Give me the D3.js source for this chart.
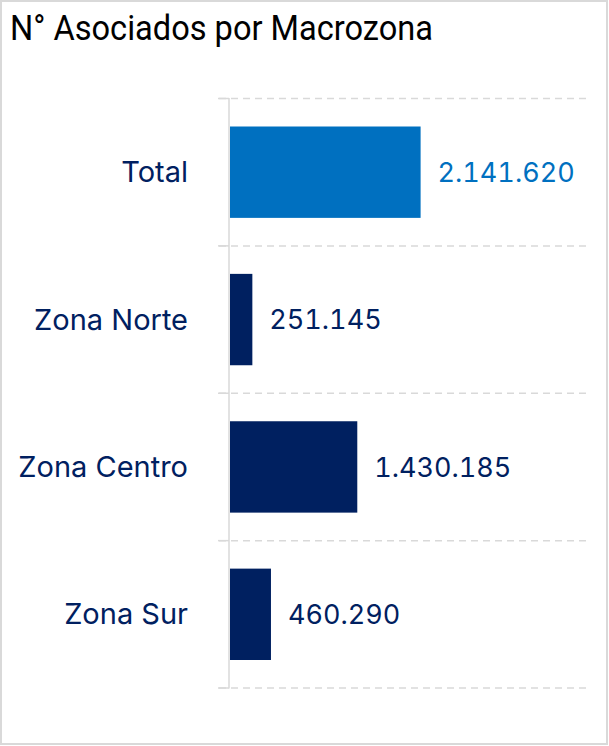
<!DOCTYPE html>
<html><head><meta charset="utf-8">
<script src="https://cdn.jsdelivr.net/npm/d3@7"></script>
<style>body{margin:0;background:#fff}svg{display:block}.val{font-variant-numeric:tabular-nums;font-feature-settings:"tnum" 1}</style>
</head><body>
<svg id="c" width="609" height="746"></svg>
<script>
const title = "N° Asociados por Macrozona";
const categories = ["Total", "Zona Norte", "Zona Centro", "Zona Sur"];
const values = [2141620, 251145, 1430185, 460290];
const valueLabels = ["2.141.620", "251.145", "1.430.185", "460.290"];
const barColors = ["#0070C0", "#002060", "#002060", "#002060"];
const labelColors = ["#0070C0", "#002060", "#002060", "#002060"];
const xMax = 4000000;

const svg = d3.select("#c");
svg.append("rect").attr("x",1).attr("y",1).attr("width",606).attr("height",743)
  .attr("fill","#fff").attr("stroke","#d9d9d9").attr("stroke-width",2);

svg.append("text").attr("x",10).attr("y",40).text(title)
  .attr("font-family","Roboto, sans-serif")
  .attr("font-size",35).attr("fill","#000")
  .attr("textLength",423).attr("lengthAdjust","spacingAndGlyphs");

const x = d3.scaleLinear().domain([0,xMax]).range([230,586]);
const y = d3.scaleBand().domain(categories).range([98.5,688]).paddingInner(0.38).paddingOuter(0.19);

const bounds = d3.range(categories.length+1).map(i => 98.5 + i*(688-98.5)/categories.length);
svg.append("g").selectAll("line").data(bounds).join("line")
  .attr("x1",219).attr("x2",587).attr("y1",d=>d).attr("y2",d=>d)
  .attr("stroke","#d9d9d9").attr("stroke-width",1.5).attr("stroke-dasharray","7,5");
svg.append("g").selectAll("line").data(bounds).join("line")
  .attr("x1",218).attr("x2",229).attr("y1",d=>d).attr("y2",d=>d)
  .attr("stroke","#d9d9d9").attr("stroke-width",1.5);
svg.append("line").attr("x1",229).attr("x2",229).attr("y1",98).attr("y2",688.5)
  .attr("stroke","#d9d9d9").attr("stroke-width",1.5);

svg.append("g").selectAll("rect").data(values).join("rect")
  .attr("x",x(0)).attr("y",(d,i)=>y(categories[i]))
  .attr("width",d=>x(d)-x(0)).attr("height",y.bandwidth())
  .attr("fill",(d,i)=>barColors[i]);

svg.append("g").selectAll("text").data(categories).join("text")
  .attr("x",188).attr("y",d=>y(d)+y.bandwidth()/2).attr("dy","0.35em")
  .attr("text-anchor","end").text(d=>d)
  .attr("font-family","Inter, sans-serif").attr("font-size",29).attr("fill","#002060");

svg.append("g").selectAll("text").data(values).join("text")
  .attr("class","val")
  .attr("x",d=>x(d)+17).attr("y",(d,i)=>y(categories[i])+y.bandwidth()/2).attr("dy","0.36em")
  .text((d,i)=>valueLabels[i])
  .attr("font-family","Inter, sans-serif").attr("font-size",27).attr("fill",(d,i)=>labelColors[i]);
</script>
</body></html>
